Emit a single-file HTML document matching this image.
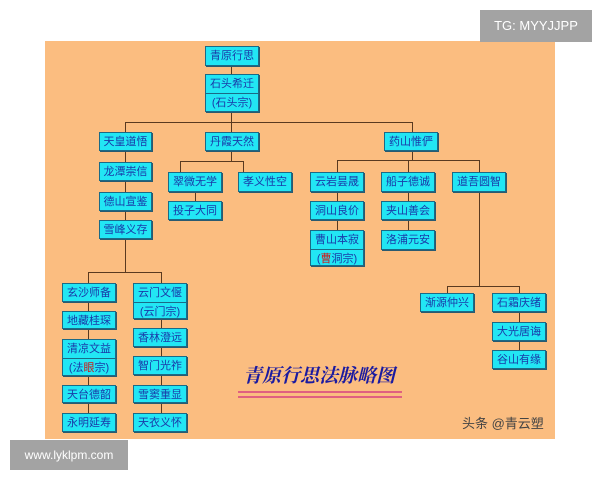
<!DOCTYPE html>
<html><head><meta charset="utf-8"><style>
body{margin:0;width:600px;height:480px;background:#fff;position:relative;overflow:hidden;font-family:"Liberation Sans","Noto Sans CJK SC",sans-serif}
#p{position:absolute;left:45px;top:41px;width:510px;height:398px;background:#fbbd80}
.b{position:absolute;background:#22e6f4;border:1px solid #1b6a86;box-shadow:1px 1px 0 #2a5a70;color:#1a3aa8;font-size:11px;text-align:center;box-sizing:border-box;line-height:18px}
.b div{border-top:1px solid #1b6a86}
.l{position:absolute;background:#5a3a20}
.r{color:#d01818}
</style></head><body>
<div id="p"></div>
<div style="position:absolute;left:480px;top:10px;width:112px;height:32px;background:#a3a3a3;color:#fff;font-size:13px;line-height:32px;text-align:center">TG: MYYJJPP</div>
<div style="position:absolute;left:10px;top:440px;width:118px;height:30px;background:#a3a3a3;color:#fff;font-size:12px;line-height:30px;text-align:center">www.lyklpm.com</div>

<!-- lines -->
<div class="l" style="left:231px;top:66px;width:1px;height:56px"></div>
<div class="l" style="left:125px;top:122px;width:287px;height:1px"></div>
<div class="l" style="left:125px;top:122px;width:1px;height:150px"></div>
<div class="l" style="left:231px;top:122px;width:1px;height:40px"></div>
<div class="l" style="left:412px;top:122px;width:1px;height:38px"></div>
<div class="l" style="left:180px;top:161px;width:63px;height:1px"></div>
<div class="l" style="left:180px;top:161px;width:1px;height:11px"></div>
<div class="l" style="left:243px;top:161px;width:1px;height:11px"></div>
<div class="l" style="left:195px;top:192px;width:1px;height:9px"></div>
<div class="l" style="left:337px;top:160px;width:142px;height:1px"></div>
<div class="l" style="left:337px;top:160px;width:1px;height:72px"></div>
<div class="l" style="left:408px;top:160px;width:1px;height:72px"></div>
<div class="l" style="left:479px;top:160px;width:1px;height:127px"></div>
<div class="l" style="left:447px;top:286px;width:72px;height:1px"></div>
<div class="l" style="left:447px;top:286px;width:1px;height:7px"></div>
<div class="l" style="left:519px;top:286px;width:1px;height:64px"></div>
<div class="l" style="left:88px;top:272px;width:73px;height:1px"></div>
<div class="l" style="left:88px;top:272px;width:1px;height:142px"></div>
<div class="l" style="left:161px;top:272px;width:1px;height:142px"></div>

<div class="b" style="left:205px;top:46px;width:54px;height:20px">青原行思</div>
<div class="b" style="left:205px;top:74px;width:54px;height:38px">石头希迁<div>(石头宗)</div></div>
<div class="b" style="left:99px;top:132px;width:53px;height:19px">天皇道悟</div>
<div class="b" style="left:205px;top:132px;width:54px;height:19px">丹霞天然</div>
<div class="b" style="left:384px;top:132px;width:54px;height:19px">药山惟俨</div>
<div class="b" style="left:99px;top:162px;width:53px;height:19px">龙潭崇信</div>
<div class="b" style="left:99px;top:192px;width:53px;height:19px">德山宣鉴</div>
<div class="b" style="left:99px;top:220px;width:53px;height:19px">雪峰义存</div>
<div class="b" style="left:168px;top:172px;width:54px;height:20px">翠微无学</div>
<div class="b" style="left:238px;top:172px;width:54px;height:20px">孝义性空</div>
<div class="b" style="left:168px;top:201px;width:54px;height:19px">投子大同</div>
<div class="b" style="left:310px;top:172px;width:54px;height:20px">云岩昙晟</div>
<div class="b" style="left:381px;top:172px;width:54px;height:20px">船子德诚</div>
<div class="b" style="left:452px;top:172px;width:54px;height:20px">道吾圆智</div>
<div class="b" style="left:310px;top:201px;width:54px;height:19px">洞山良价</div>
<div class="b" style="left:381px;top:201px;width:54px;height:19px">夹山善会</div>
<div class="b" style="left:310px;top:230px;width:54px;height:36px">曹山本寂<div>(<span class="r">曹</span>洞宗)</div></div>
<div class="b" style="left:381px;top:230px;width:54px;height:20px">洛浦元安</div>
<div class="b" style="left:62px;top:283px;width:54px;height:19px">玄沙师备</div>
<div class="b" style="left:133px;top:283px;width:54px;height:36px">云门文偃<div>(云门宗)</div></div>
<div class="b" style="left:62px;top:311px;width:54px;height:18px">地藏桂琛</div>
<div class="b" style="left:62px;top:339px;width:54px;height:37px">清凉文益<div>(法<span class="r">眼</span>宗)</div></div>
<div class="b" style="left:62px;top:385px;width:54px;height:18px">天台德韶</div>
<div class="b" style="left:62px;top:413px;width:54px;height:19px">永明延寿</div>
<div class="b" style="left:133px;top:328px;width:54px;height:19px">香林澄远</div>
<div class="b" style="left:133px;top:356px;width:54px;height:19px">智门光祚</div>
<div class="b" style="left:133px;top:385px;width:54px;height:18px">雪窦重显</div>
<div class="b" style="left:133px;top:413px;width:54px;height:19px">天衣义怀</div>
<div class="b" style="left:420px;top:293px;width:54px;height:19px">渐源仲兴</div>
<div class="b" style="left:492px;top:293px;width:54px;height:19px">石霜庆绪</div>
<div class="b" style="left:492px;top:322px;width:54px;height:19px">大光居诲</div>
<div class="b" style="left:492px;top:350px;width:54px;height:19px">谷山有缘</div>

<div style="position:absolute;left:243px;top:362px;width:160px;font-size:19px;line-height:26px;color:#1a1aa0;font-weight:bold;font-style:italic;letter-spacing:0px;font-family:'Noto Serif CJK SC',serif;white-space:nowrap">青原行思法脉略图</div>
<div style="position:absolute;left:238px;top:391px;width:164px;height:2px;background:#e06080"></div>
<div style="position:absolute;left:238px;top:396px;width:164px;height:2px;background:#e06080"></div>
<div style="position:absolute;left:462px;top:413px;font-size:13px;color:#444;white-space:nowrap">头条 @青云塑</div>
</body></html>
